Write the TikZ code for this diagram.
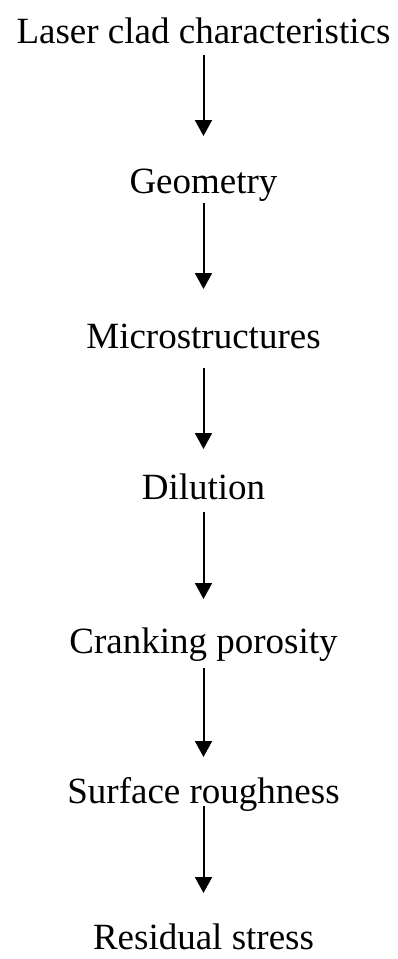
\documentclass[tikz,border=0pt]{standalone}
\usepackage{fontspec}
\setmainfont{Liberation Serif}
\usetikzlibrary{arrows.meta}
\begin{document}
\begin{tikzpicture}[x=1pt,y=1pt,
  lbl/.style={anchor=base, inner sep=0pt, font=\fontsize{37}{42}\selectfont},
  flow/.style={line width=2pt, -{Triangle[width=17pt,length=16pt]}}]
\useasboundingbox (0,0) rectangle (397,-959);
\node[lbl] (n1) at (203.5,-43) {Laser clad characteristics};
\node[lbl] (n2) at (203.5,-193) {Geometry};
\node[lbl] (n3) at (203.5,-348) {Microstructures};
\node[lbl] (n4) at (203.5,-499) {Dilution};
\node[lbl] (n5) at (203.5,-653) {Cranking porosity};
\node[lbl] (n6) at (203.5,-803) {Surface roughness};
\node[lbl] (n7) at (203.5,-949) {Residual stress};
\coordinate (s1) at (203.5,-55);  \coordinate (e1) at (203.5,-136);
\coordinate (s2) at (203.5,-203); \coordinate (e2) at (203.5,-289);
\coordinate (s3) at (203.5,-368); \coordinate (e3) at (203.5,-449);
\coordinate (s4) at (203.5,-512); \coordinate (e4) at (203.5,-599);
\coordinate (s5) at (203.5,-668); \coordinate (e5) at (203.5,-757);
\coordinate (s6) at (203.5,-806); \coordinate (e6) at (203.5,-893);
\draw[flow] (s1) -- (e1);
\draw[flow] (s2) -- (e2);
\draw[flow] (s3) -- (e3);
\draw[flow] (s4) -- (e4);
\draw[flow] (s5) -- (e5);
\draw[flow] (s6) -- (e6);
\end{tikzpicture}
\end{document}
